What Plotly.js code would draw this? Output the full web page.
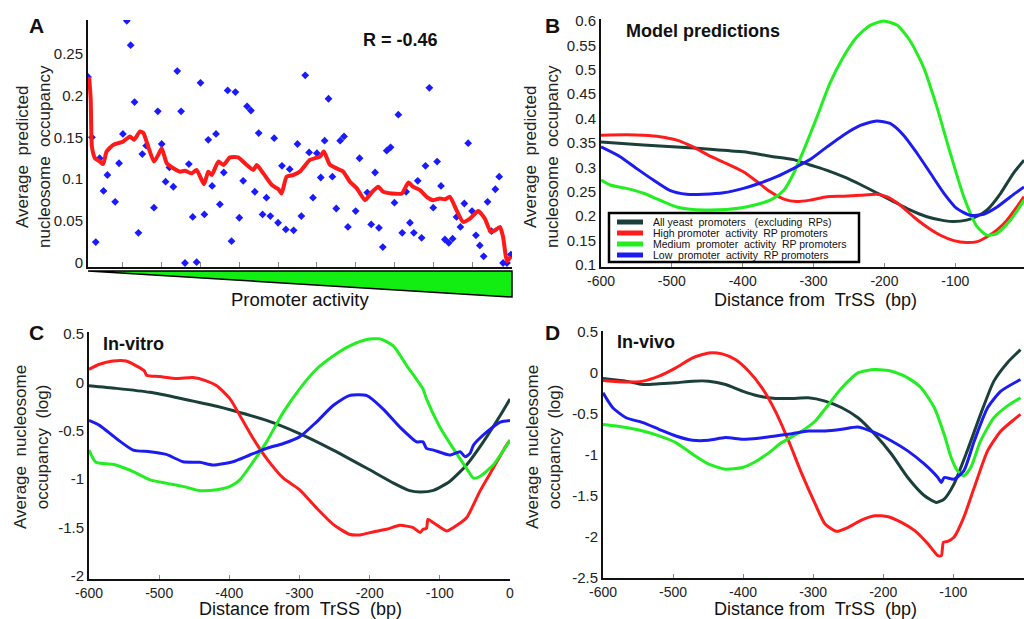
<!DOCTYPE html>
<html><head><meta charset="utf-8">
<script src="https://cdn.plot.ly/plotly-3.0.1.min.js"></script>
<style>html,body{margin:0;padding:0;background:#fff;overflow:hidden}#chart{width:1024px;height:619px}</style>
</head><body><div id="chart"></div>
<script>
// ---------- Panel A data ----------
const promoterIndex = [1,2,3,4,5,6,8,9,10,11,12,13,14,15,16,18,19,20,21,22,23,24,25,26,27,28,29,30,31,32,33,34,35,36,37,38,39,40,41,42,43,44,45,46,47,48,49,50,51,52,53,54,55,56,57,58,59,60,61,62,63,64,65,66,67,68,70,71,73,74,75,76,77,78,79,80,81,82,83,84,85,86,87,88,89,90,91,92,93,94,95,96,97,98,99,100,101,102,103,104,105,106,107,108,109,110];
const predictedOccupancy = [0.222,0.150,0.025,0.125,0.086,0.105,0.073,0.119,0.154,0.289,0.260,0.192,0.036,0.130,0.140,0.066,0.181,0.142,0.097,0.114,0.091,0.229,0.181,0.000,0.118,0.055,0.001,0.215,0.058,0.147,0.092,0.154,0.070,0.108,0.206,0.026,0.204,0.054,0.098,0.187,0.182,0.085,0.155,0.058,0.078,0.056,0.149,0.048,0.116,0.040,0.112,0.039,0.142,0.056,0.224,0.132,0.078,0.131,0.102,0.146,0.196,0.103,0.065,0.146,0.151,0.043,0.062,0.125,0.084,0.046,0.108,0.042,0.019,0.134,0.138,0.072,0.177,0.036,0.085,0.048,0.036,0.098,0.030,0.116,0.209,0.066,0.121,0.092,0.028,0.024,0.029,0.055,0.043,0.071,0.143,0.062,0.033,0.021,0.008,0.073,0.038,0.088,0.103,0.000,0.000,0.010];
const smoothX = [1.3,1.7,2.0,2.8,4.1,4.9,5.8,7.5,10.1,11.8,12.9,14.4,15.3,16.5,18.0,19.1,20.0,21.3,23.0,24.7,26.0,27.7,29.0,30.9,32.0,32.9,34.6,35.9,37.6,39.7,41.9,43.6,44.5,46.2,48.4,50.1,50.9,52.2,53.9,55.6,58.2,60.8,61.8,63.4,66.8,68.5,70.3,72.4,74.1,75.8,77.1,79.3,81.9,83.6,84.8,86.6,88.3,90.0,91.7,93.0,94.3,96.0,97.7,99.5,101.6,103.3,104.8,105.9,107.2,108.0,108.7,109.1,110.0];
const smoothY = [0.222,0.195,0.139,0.125,0.121,0.118,0.133,0.141,0.145,0.151,0.147,0.157,0.155,0.139,0.121,0.129,0.137,0.119,0.113,0.109,0.110,0.107,0.111,0.094,0.109,0.105,0.121,0.117,0.126,0.126,0.117,0.111,0.117,0.107,0.093,0.088,0.083,0.103,0.105,0.109,0.123,0.127,0.133,0.117,0.109,0.097,0.089,0.075,0.084,0.091,0.085,0.083,0.083,0.096,0.091,0.087,0.079,0.075,0.077,0.076,0.079,0.063,0.049,0.053,0.062,0.053,0.037,0.039,0.043,0.031,0.008,0.002,0.008];
const yTicksA = [0,0.05,0.1,0.15,0.2,0.25];
const yTickTextA = ['0','0.05','0.1','0.15','0.2','0.25'];

// ---------- Panel B data (model predictions) ----------
const seriesNames = ['All yeast  promoters   (excluding  RPs)','High promoter  activity  RP promoters','Medium  promoter  activity  RP promoters','Low  promoter  activity  RP promoters'];
const seriesColors = ['#1b3f3b','#ff1c1c','#22ee22','#1c1cf0'];
const bAllX = [-600,-540,-493,-446,-399,-361,-328,-305,-281,-258,-234,-211,-187,-164,-140,-116,-102,-84,-69,-55,-36,-18,-3];
const bAllY = [0.352,0.346,0.342,0.337,0.332,0.323,0.316,0.305,0.294,0.281,0.265,0.248,0.230,0.213,0.199,0.191,0.189,0.192,0.200,0.213,0.247,0.288,0.315];
const bHighX = [-600,-564,-540,-517,-493,-470,-446,-423,-399,-380,-361,-342,-324,-305,-281,-258,-234,-211,-197,-178,-159,-140,-121,-102,-84,-69,-55,-41,-27,-13,-3];
const bHighY = [0.366,0.367,0.366,0.363,0.356,0.342,0.323,0.308,0.291,0.271,0.250,0.235,0.230,0.233,0.240,0.241,0.243,0.245,0.240,0.223,0.199,0.178,0.161,0.150,0.146,0.148,0.158,0.172,0.192,0.219,0.240];
const bMedX = [-600,-587,-564,-540,-517,-493,-470,-446,-423,-399,-375,-357,-342,-328,-314,-295,-277,-258,-239,-220,-201,-182,-164,-145,-126,-107,-88,-69,-55,-41,-22,-3];
const bMedY = [0.274,0.264,0.257,0.247,0.233,0.219,0.214,0.213,0.214,0.218,0.226,0.236,0.253,0.288,0.335,0.404,0.472,0.526,0.567,0.591,0.600,0.591,0.560,0.506,0.424,0.329,0.240,0.178,0.161,0.165,0.192,0.233];
const bLowX = [-600,-573,-550,-526,-503,-479,-455,-427,-399,-375,-352,-328,-305,-281,-258,-234,-211,-192,-173,-154,-135,-116,-98,-79,-60,-41,-22,-3];
const bLowY = [0.342,0.322,0.298,0.274,0.253,0.245,0.245,0.248,0.257,0.268,0.281,0.298,0.316,0.342,0.366,0.386,0.395,0.390,0.366,0.329,0.288,0.247,0.216,0.202,0.204,0.219,0.240,0.260];

// ---------- Panel C data (in-vitro) ----------
const cAllX = [-600,-561,-513,-466,-418,-395,-347,-300,-252,-204,-166,-143,-128,-109,-86,-62,-38,-14,0];
const cAllY = [-0.035,-0.062,-0.103,-0.171,-0.246,-0.290,-0.393,-0.529,-0.699,-0.887,-1.040,-1.118,-1.132,-1.115,-1.023,-0.853,-0.614,-0.342,-0.171];
const cHighX = [-600,-585,-566,-547,-528,-521,-518,-499,-475,-452,-433,-418,-399,-385,-366,-347,-323,-300,-276,-252,-229,-214,-195,-176,-157,-138,-128,-124,-119,-117,-109,-90,-81,-62,-43,-24,-5,0];
const cHighY = [0.135,0.187,0.221,0.221,0.152,0.118,0.074,0.060,0.040,0.050,0.016,-0.035,-0.171,-0.342,-0.580,-0.784,-0.989,-1.108,-1.296,-1.466,-1.568,-1.575,-1.544,-1.517,-1.476,-1.500,-1.551,-1.517,-1.507,-1.415,-1.449,-1.534,-1.500,-1.398,-1.125,-0.887,-0.648,-0.597];
const cMedX = [-600,-590,-566,-537,-513,-490,-466,-442,-418,-399,-385,-366,-347,-323,-300,-276,-252,-229,-204,-185,-166,-147,-124,-119,-100,-81,-62,-52,-43,-24,0];
const cMedY = [-0.699,-0.825,-0.846,-0.921,-1.006,-1.040,-1.074,-1.118,-1.108,-1.074,-1.006,-0.819,-0.614,-0.307,-0.069,0.135,0.272,0.374,0.442,0.449,0.374,0.170,-0.069,-0.171,-0.461,-0.682,-0.887,-0.989,-0.972,-0.853,-0.597];
const cLowX = [-600,-585,-561,-537,-513,-490,-466,-442,-423,-395,-371,-347,-323,-300,-276,-252,-229,-204,-181,-157,-133,-124,-119,-109,-86,-71,-64,-57,-52,-33,-14,0];
const cLowY = [-0.393,-0.444,-0.580,-0.699,-0.716,-0.744,-0.819,-0.825,-0.853,-0.819,-0.750,-0.682,-0.631,-0.563,-0.410,-0.239,-0.137,-0.137,-0.273,-0.461,-0.614,-0.614,-0.682,-0.699,-0.750,-0.716,-0.767,-0.733,-0.648,-0.512,-0.410,-0.393];

// ---------- Panel D data (in-vivo) ----------
const dAllX = [-600,-567,-543,-520,-496,-472,-449,-425,-401,-378,-354,-330,-307,-283,-259,-236,-212,-188,-165,-141,-124,-113,-99,-80,-61,-42,-23,-4];
const dAllY = [-0.069,-0.101,-0.142,-0.134,-0.121,-0.101,-0.101,-0.142,-0.223,-0.283,-0.312,-0.312,-0.304,-0.344,-0.425,-0.547,-0.749,-0.992,-1.275,-1.498,-1.579,-1.538,-1.356,-0.951,-0.506,-0.101,0.121,0.283];
const dHighX = [-600,-567,-543,-520,-496,-472,-449,-430,-411,-392,-373,-354,-335,-316,-297,-283,-267,-250,-231,-212,-193,-174,-155,-136,-122,-117,-114,-108,-99,-85,-70,-51,-32,-13,-4];
const dHighY = [-0.093,-0.113,-0.101,-0.040,0.061,0.182,0.243,0.231,0.162,0.020,-0.182,-0.466,-0.830,-1.235,-1.599,-1.842,-1.931,-1.883,-1.794,-1.741,-1.753,-1.822,-1.923,-2.085,-2.227,-2.227,-2.065,-2.053,-2.004,-1.761,-1.397,-0.951,-0.709,-0.567,-0.506];
const dMedX = [-600,-581,-543,-520,-496,-472,-449,-425,-401,-382,-363,-345,-316,-297,-278,-259,-236,-212,-188,-165,-146,-127,-113,-103,-94,-85,-75,-61,-42,-23,-4];
const dMedY = [-0.628,-0.648,-0.709,-0.769,-0.850,-0.992,-1.113,-1.174,-1.154,-1.081,-0.972,-0.850,-0.709,-0.587,-0.385,-0.182,0.000,0.040,0.020,-0.061,-0.182,-0.425,-0.749,-1.032,-1.194,-1.255,-1.154,-0.830,-0.547,-0.405,-0.304];
const dLowX = [-600,-586,-567,-543,-520,-496,-472,-449,-425,-401,-378,-354,-330,-307,-283,-259,-236,-212,-188,-165,-141,-122,-117,-113,-99,-85,-70,-51,-32,-4];
const dLowY = [-0.243,-0.425,-0.547,-0.607,-0.688,-0.769,-0.822,-0.822,-0.789,-0.810,-0.797,-0.769,-0.741,-0.709,-0.709,-0.688,-0.660,-0.729,-0.830,-0.951,-1.113,-1.275,-1.336,-1.275,-1.296,-1.194,-0.830,-0.425,-0.223,-0.081];

const distTicks = [-600,-500,-400,-300,-200,-100,0];
const yTicksB = [0.1,0.15,0.2,0.25,0.3,0.35,0.4,0.45,0.5,0.55,0.6];
const yTicksC = [-2,-1.5,-1,-0.5,0,0.5];
const yTicksD = [-2.5,-2,-1.5,-1,-0.5,0,0.5];

// ---------- build ----------
const W = 1024, H = 619;
const px = v => v / W;
const py = v => 1 - v / H;
const FONT = 'Liberation Sans, Arial, sans-serif';
const LW = 3;

function line(x, y, i, xa, ya) {
  return {x, y, type: 'scatter', mode: 'lines', name: seriesNames[i],
    line: {color: seriesColors[i], width: LW, shape: 'spline', smoothing: 0.6},
    xaxis: xa, yaxis: ya, showlegend: false, hoverinfo: 'skip'};
}

const traces = [
  {x: promoterIndex, y: predictedOccupancy, type: 'scatter', mode: 'markers', name: 'promoters',
   marker: {symbol: 'diamond', size: 6, color: '#1a1aff'}, xaxis: 'x', yaxis: 'y', showlegend: false},
  {x: smoothX, y: smoothY, type: 'scatter', mode: 'lines', name: 'moving average', line: {color: '#ff1a1a', width: 4, shape: 'spline', smoothing: 0.5},
   xaxis: 'x', yaxis: 'y', showlegend: false},
  line(bAllX, bAllY, 0, 'x2', 'y2'),
  line(bHighX, bHighY, 1, 'x2', 'y2'),
  line(bMedX, bMedY, 2, 'x2', 'y2'),
  line(bLowX, bLowY, 3, 'x2', 'y2'),
  line(cAllX, cAllY, 0, 'x3', 'y3'),
  line(cHighX, cHighY, 1, 'x3', 'y3'),
  line(cMedX, cMedY, 2, 'x3', 'y3'),
  line(cLowX, cLowY, 3, 'x3', 'y3'),
  line(dAllX, dAllY, 0, 'x4', 'y4'),
  line(dHighX, dHighY, 1, 'x4', 'y4'),
  line(dMedX, dMedY, 2, 'x4', 'y4'),
  line(dLowX, dLowY, 3, 'x4', 'y4')
];

const axBase = {showline: true, linecolor: '#111', linewidth: 2, showgrid: false, zeroline: false,
  ticks: 'inside', ticklen: 4, tickcolor: '#888', tickfont: {family: FONT, size: 14, color: '#222'}};

function distAxis(domain, range, anchor) {
  return Object.assign({}, axBase, {domain, range, anchor, tickvals: distTicks, ticktext: distTicks.map(String)});
}

const layout = {
  width: W, height: H, margin: {l: 0, r: 0, t: 0, b: 0},
  paper_bgcolor: '#fff', plot_bgcolor: 'rgba(0,0,0,0)',
  font: {family: FONT, color: '#111'},
  showlegend: false,
  xaxis: Object.assign({}, axBase, {domain: [px(88), px(512)], range: [1, 110.3], anchor: 'y',
    tickvals: [10,20,30,40,50,60,70,80,90,100], showticklabels: false, ticklen: 5}),
  yaxis: Object.assign({}, axBase, {domain: [py(267), py(20)], range: [-0.0048, 0.29], anchor: 'x',
    tickvals: yTicksA, ticktext: yTickTextA, ticks: '', tickfont: {family: FONT, size: 15, color: '#222'}}),
  xaxis2: distAxis([px(601), 1], [-600, -3], 'y2'),
  yaxis2: Object.assign({}, axBase, {domain: [py(267), py(19)], range: [0.096, 0.604], anchor: 'x2',
    tickvals: yTicksB, ticktext: yTicksB.map(String), ticks: '', tickfont: {family: FONT, size: 15, color: '#222'}}),
  xaxis3: distAxis([px(89), px(510)], [-600, 0], 'y3'),
  yaxis3: Object.assign({}, axBase, {domain: [py(579), py(332)], range: [-2.03, 0.52], anchor: 'x3',
    tickvals: yTicksC, ticktext: yTicksC.map(String), ticks: '', tickfont: {family: FONT, size: 15, color: '#222'}}),
  xaxis4: distAxis([px(603), 1], [-600, 1], 'y4'),
  yaxis4: Object.assign({}, axBase, {domain: [py(578), py(331)], range: [-2.5, 0.51], anchor: 'x4',
    tickvals: yTicksD, ticktext: yTicksD.map(String), ticks: '', tickfont: {family: FONT, size: 15, color: '#222'}}),
  shapes: [
    {type: 'path', xref: 'paper', yref: 'paper',
     path: `M ${px(88)},${py(271)} L ${px(512)},${py(271)} L ${px(512)},${py(297)} Z`,
     fillcolor: '#12ee12', line: {color: '#000', width: 1.5}},
    // legend box of panel B
    {type: 'rect', xref: 'paper', yref: 'paper', x0: px(609), x1: px(859), y0: py(262), y1: py(213),
     fillcolor: '#fff', line: {color: '#000', width: 2.5}, layer: 'above'}
  ],
  annotations: []
};

function ann(text, x, y, opts) {
  layout.annotations.push(Object.assign({text, x: px(x), y: py(y), xref: 'paper', yref: 'paper',
    xanchor: 'center', yanchor: 'middle', showarrow: false,
    font: {family: FONT, size: 16, color: '#111'}}, opts || {}));
}
const F = (sz, c) => ({family: FONT, size: sz, color: c || '#111'});

// custom compact legend (panel B)
const legendRows = [222, 233, 244, 255];
seriesNames.forEach((name, i) => {
  layout.shapes.push({type: 'line', xref: 'paper', yref: 'paper', x0: px(617), x1: px(643),
    y0: py(legendRows[i]), y1: py(legendRows[i]), line: {color: seriesColors[i], width: 5}, layer: 'above'});
  ann(name, 651, legendRows[i], {xanchor: 'left', font: F(10.5, '#111')});
});

ann('<b>A</b>', 36, 25, {font: F(21)});
ann('<b>B</b>', 552, 25, {font: F(21)});
ann('<b>C</b>', 36, 333, {font: F(21)});
ann('<b>D</b>', 552, 332, {font: F(21)});
ann('<b>R = -0.46</b>', 400, 40, {font: F(18)});
ann('<b>Model predictions</b>', 703, 31, {font: F(18)});
ann('<b>In-vitro</b>', 133, 344, {font: F(18)});
ann('<b>In-vivo</b>', 646, 342, {font: F(18)});
ann('Average  predicted<br>nucleosome  occupancy', 33, 157, {textangle: -90, font: F(17, '#222')});
ann('Average  predicted<br>nucleosome  occupancy', 541, 157, {textangle: -90, font: F(17, '#222')});
ann('Average  nucleosome<br>occupancy  (log)', 31, 447, {textangle: -90, font: F(17, '#222')});
ann('Average  nucleosome<br>occupancy  (log)', 543, 447, {textangle: -90, font: F(17, '#222')});
ann('Promoter activity', 300, 299, {font: F(18.5)});
ann('Distance from  TrSS  (bp)', 815, 300, {font: F(18)});
ann('Distance from  TrSS  (bp)', 300, 609, {font: F(18)});
ann('Distance from  TrSS  (bp)', 815, 609, {font: F(18)});

Plotly.newPlot('chart', traces, layout, {staticPlot: true, displayModeBar: false});
</script></body></html>
